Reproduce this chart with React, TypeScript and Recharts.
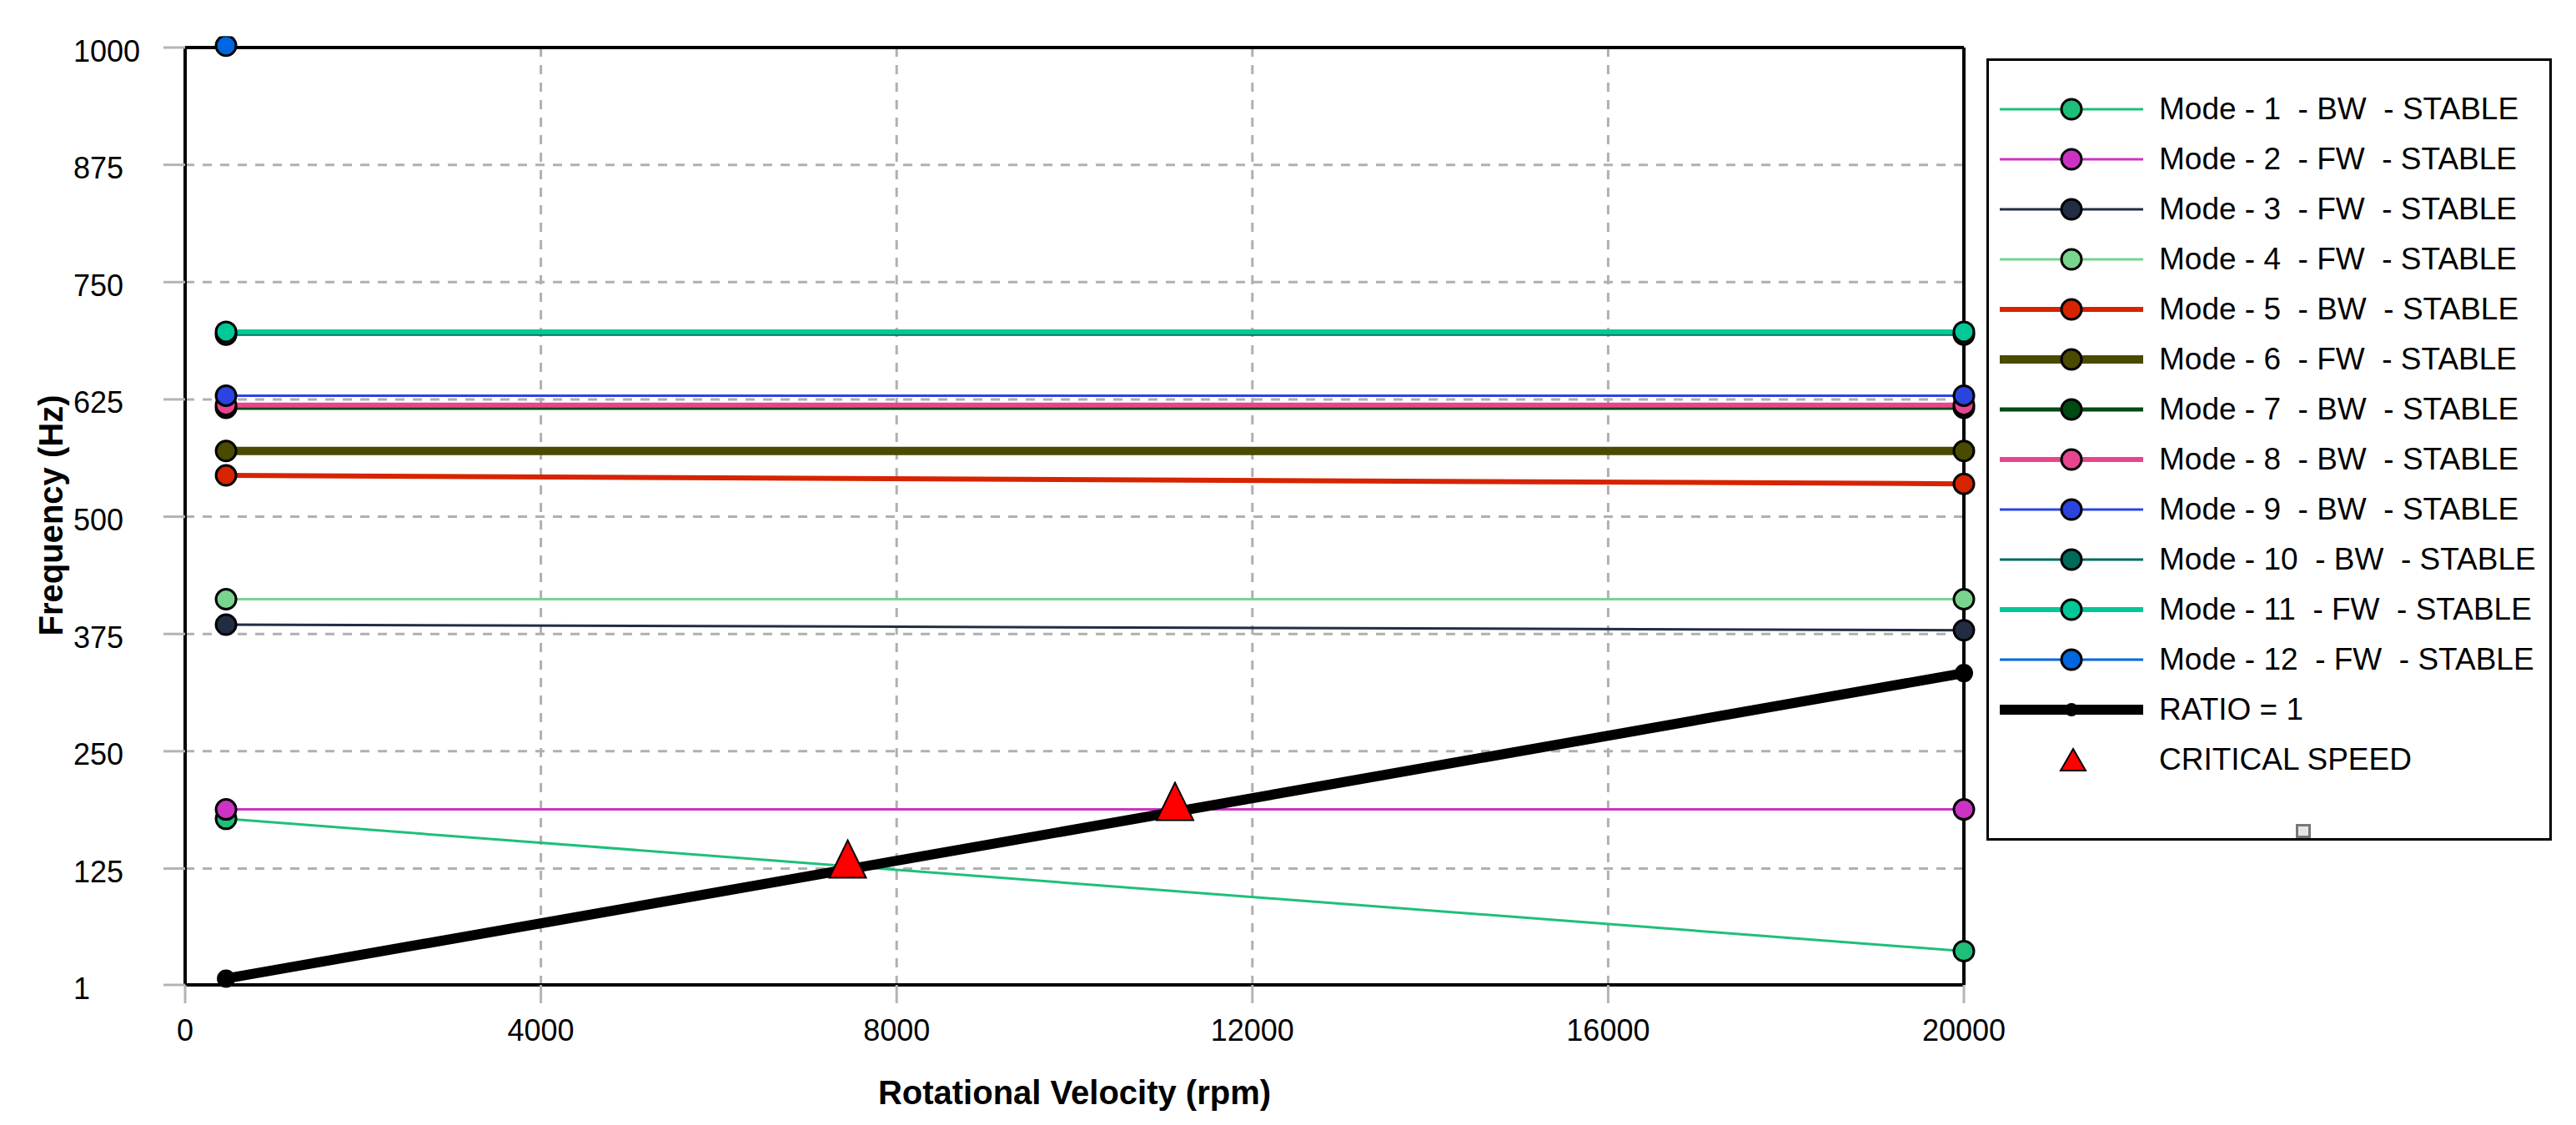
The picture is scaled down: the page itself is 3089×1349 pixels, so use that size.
import React from "react";
import {
  ComposedChart,
  Line,
  Scatter,
  XAxis,
  YAxis,
  CartesianGrid,
  ReferenceLine,
  Legend,
} from "recharts";

// rotational speeds where each mode was sampled (rpm)
const speeds = [460, 20000];

const modeLabels = [
  "Mode - 1  - BW  - STABLE",
  "Mode - 2  - FW  - STABLE",
  "Mode - 3  - FW  - STABLE",
  "Mode - 4  - FW  - STABLE",
  "Mode - 5  - BW  - STABLE",
  "Mode - 6  - FW  - STABLE",
  "Mode - 7  - BW  - STABLE",
  "Mode - 8  - BW  - STABLE",
  "Mode - 9  - BW  - STABLE",
  "Mode - 10  - BW  - STABLE",
  "Mode - 11  - FW  - STABLE",
  "Mode - 12  - FW  - STABLE",
];

// frequencies (Hz) at each speed
const mode1 = [178, 37];
const mode2 = [188, 188];
const mode3 = [385, 379];
const mode4 = [412, 412];
const mode5 = [544, 535];
const mode6 = [570, 570];
const mode7 = [616, 616];
const mode8 = [619, 619];
const mode9 = [629, 629];
const mode10 = [694, 694];
const mode11 = [697, 697];
const mode12 = [1002, 1060];
const ratioOne = [7.7, 333.3];

const criticalRpm = [7450, 11130];
const criticalHz = [124, 185.5];

const xTicks = [0, 4000, 8000, 12000, 16000, 20000];
const yTicks = [1, 125, 250, 375, 500, 625, 750, 875, 1000];

const modeColors = [
  "#1fbf7a",
  "#cc33c4",
  "#222d44",
  "#78d48e",
  "#d62400",
  "#4a4a00",
  "#004a14",
  "#e8458e",
  "#2b44e0",
  "#006a5a",
  "#00c896",
  "#0066dd",
];
const modeWidths = [3, 3, 3, 3, 6, 10, 5, 6, 3, 3, 6, 3];

const modeValues = [
  mode1, mode2, mode3, mode4, mode5, mode6,
  mode7, mode8, mode9, mode10, mode11, mode12,
];

const modes = modeValues.map((vals, i) => ({
  key: `mode${i + 1}`,
  name: modeLabels[i],
  color: modeColors[i],
  width: modeWidths[i],
  data: speeds.map((x, j) => ({ x, y: vals[j] })),
}));

const ratioData = speeds.map((x, j) => ({ x, y: ratioOne[j] }));
const criticalData = criticalRpm.map((x, j) => ({ x, y: criticalHz[j] }));

const FONT = '"Liberation Sans", Arial, sans-serif';

const XTick = (p: any) => (
  <text
    x={p.x}
    y={p.y + 30}
    textAnchor="middle"
    dominantBaseline="central"
    fontFamily={FONT}
    fontSize={36}
    fill="#000"
  >
    {p.payload.value}
  </text>
);

const YTick = (p: any) => (
  <text
    x={88}
    y={p.y + 4}
    textAnchor="start"
    dominantBaseline="central"
    fontFamily={FONT}
    fontSize={36}
    fill="#000"
  >
    {p.payload.value}
  </text>
);

const Triangle = (p: any) => {
  const { cx, cy } = p;
  if (cx == null || cy == null) return <g />;
  return (
    <polygon
      points={`${cx},${cy - 35} ${cx - 22},${cy + 10} ${cx + 22},${cy + 10}`}
      fill="#ff0000"
      stroke="#000"
      strokeWidth={2}
    />
  );
};

const renderLegend = () => {
  const rows = [
    ...modes.map((m) => ({ name: m.name, color: m.color, width: m.width, kind: "mode" })),
    { name: "RATIO = 1", color: "#000", width: 12, kind: "ratio" },
    { name: "CRITICAL SPEED", color: "#ff0000", width: 0, kind: "critical" },
  ];
  return (
    <div
      style={{
        position: "relative",
        width: 678,
        height: 938,
        border: "3px solid #000",
        boxSizing: "border-box",
        background: "#fff",
        fontFamily: FONT,
        fontSize: 37,
        color: "#000",
      }}
    >
      {rows.map((r, i) => (
        <div
          key={r.name}
          style={{ position: "absolute", left: 0, top: 28 + 60 * i, height: 60, width: "100%" }}
        >
          <svg style={{ position: "absolute", left: 13, top: 0 }} width={180} height={60}>
            {r.kind !== "critical" && (
              <line x1={0} x2={172} y1={30} y2={30} stroke={r.color} strokeWidth={r.width} />
            )}
            {r.kind === "mode" && (
              <circle cx={86} cy={30} r={12} fill={r.color} stroke="#000" strokeWidth={3} />
            )}
            {r.kind === "ratio" && <circle cx={86} cy={30} r={8} fill="#000" />}
            {r.kind === "critical" && (
              <polygon points="88,17 73,43 103,43" fill="#ff0000" stroke="#000" strokeWidth={2} />
            )}
          </svg>
          <span
            style={{
              position: "absolute",
              left: 204,
              top: 0,
              lineHeight: "60px",
              whiteSpace: "pre",
            }}
          >
            {r.name}
          </span>
        </div>
      ))}
      <div
        style={{
          position: "absolute",
          left: 368,
          top: 915,
          width: 18,
          height: 17,
          border: "3px solid #777",
          boxSizing: "border-box",
          background: "#e6e6e6",
        }}
      />
    </div>
  );
};

export default function App() {
  return (
    <div style={{ position: "absolute", left: 0, top: 0, width: 3089, height: 1349, background: "#fff" }}>
      <ComposedChart
        width={3089}
        height={1349}
        margin={{ top: 57, right: 734, bottom: 68, left: 88 }}
      >
        <CartesianGrid stroke="#b0b0b0" strokeWidth={3} strokeDasharray="11 10" />
        <XAxis
          type="number"
          dataKey="x"
          domain={[0, 20000]}
          ticks={xTicks}
          height={100}
          tickSize={22}
          tickLine={{ stroke: "#b4b4b4", strokeWidth: 3 }}
          axisLine={{ stroke: "#000", strokeWidth: 4 }}
          tick={<XTick />}
          label={() => (
            <text
              x={88 + 134 + 2133 / 2}
              y={1324}
              textAnchor="middle"
              fontFamily={FONT}
              fontWeight="bold"
              fontSize={40}
              fill="#000"
            >
              Rotational Velocity (rpm)
            </text>
          )}
        />
        <YAxis
          type="number"
          dataKey="y"
          domain={[1, 1000]}
          ticks={yTicks}
          width={134}
          tickSize={26}
          tickLine={{ stroke: "#b4b4b4", strokeWidth: 3 }}
          axisLine={{ stroke: "#000", strokeWidth: 4 }}
          tick={<YTick />}
          label={() => (
            <text
              x={61}
              y={618}
              transform="rotate(-90 61 618)"
              textAnchor="middle"
              dominantBaseline="central"
              fontFamily={FONT}
              fontWeight="bold"
              fontSize={40}
              fill="#000"
            >
              Frequency (Hz)
            </text>
          )}
        />
        <YAxis
          yAxisId="clip"
          type="number"
          dataKey="y"
          domain={[1, 1000]}
          allowDataOverflow
          hide
        />
        <ReferenceLine y={1000} stroke="#000" strokeWidth={4} />
        <ReferenceLine x={20000} stroke="#000" strokeWidth={4} />
        {modes.map((m) => (
          <Line
            key={m.key}
            data={m.data}
            dataKey="y"
            name={m.name}
            type="linear"
            yAxisId={m.key === "mode12" ? "clip" : 0}
            stroke={m.color}
            strokeWidth={m.width}
            dot={{ r: 12, fill: m.color, stroke: "#000", strokeWidth: 3, clipDot: false }}
            activeDot={false}
            isAnimationActive={false}
          />
        ))}
        <Line
          data={ratioData}
          dataKey="y"
          name="RATIO = 1"
          type="linear"
          stroke="#000"
          strokeWidth={12}
          dot={{ r: 10, fill: "#000", stroke: "#000", strokeWidth: 2 }}
          activeDot={false}
          isAnimationActive={false}
        />
        <Scatter
          data={criticalData}
          dataKey="y"
          name="CRITICAL SPEED"
          shape={<Triangle />}
          isAnimationActive={false}
        />
        <Legend
          layout="vertical"
          align="center"
          verticalAlign="middle"
          content={renderLegend}
          wrapperStyle={{ left: 2382, top: 70, width: 678, height: 938 }}
        />
      </ComposedChart>
    </div>
  );
}
